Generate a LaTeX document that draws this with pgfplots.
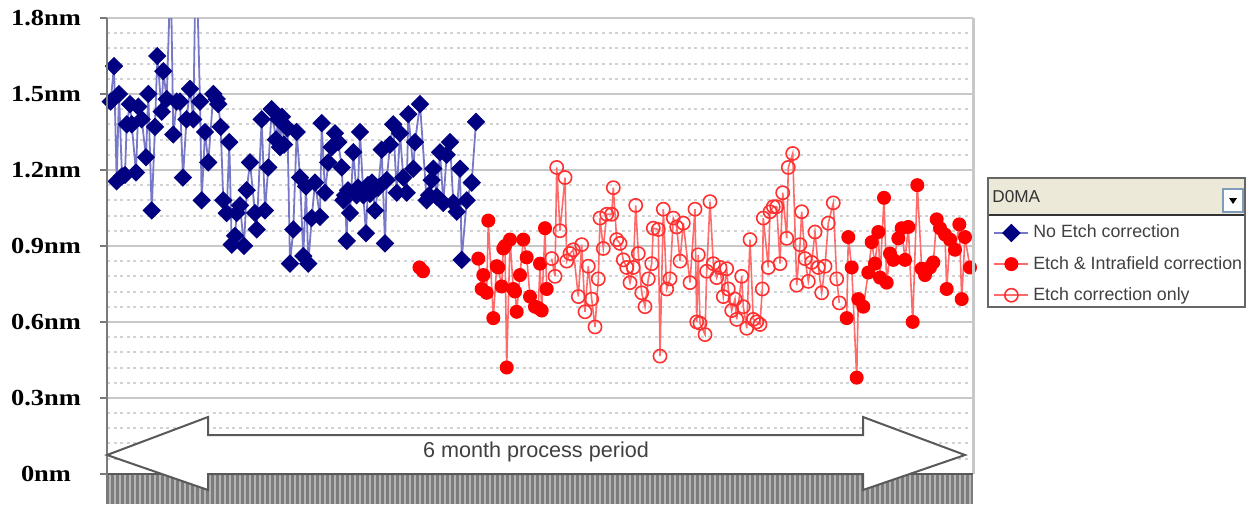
\documentclass[border=0pt]{standalone}
\usepackage{fontspec}
\setmainfont{Liberation Serif}
\newfontfamily\labfont[FakeStretch=1.15]{Liberation Serif}
\newfontfamily\sansf{Liberation Sans}
\usepackage{pgfplots}
\pgfplotsset{compat=1.18}
\definecolor{navy}{HTML}{000080}
\definecolor{blueline}{HTML}{7878C8}
\definecolor{redline}{HTML}{FF6A6A}
\definecolor{redmark}{HTML}{FF3030}
\definecolor{gridgray}{HTML}{C8C8C8}
\definecolor{dotgray}{HTML}{D2D2D2}
\definecolor{axisgray}{HTML}{7A7A7A}
\definecolor{hatchdark}{HTML}{7C7C7C}
\definecolor{hatchlight}{HTML}{B4B4B4}
\definecolor{textgray}{HTML}{404040}
\definecolor{beige}{HTML}{ECE9D8}
\definecolor{btnblue}{HTML}{7F9DB9}

\pgfplotstableread{
x y
106.7 1.50
110.7 1.47
114 1.61
116.7 1.155
119 1.50
122 1.175
125 1.18
126.7 1.38
130 1.46
131.7 1.38
136 1.19
138.3 1.45
141.7 1.40
146 1.25
148.3 1.50
151.7 1.04
155 1.37
157.3 1.65
161.7 1.43
163.3 1.59
166.7 1.48
170.7 2.0
173.3 1.34
176.7 1.47
180 1.47
183 1.17
186.5 1.40
190 1.52
193.3 1.40
196 2.1
200 1.47
201.7 1.08
205 1.35
208.3 1.23
213.3 1.50
216.7 1.48
218.3 1.46
220.7 1.37
223.3 1.08
226.7 1.03
229.3 1.31
231.7 0.905
235 0.94
236.7 1.03
240 1.06
244 0.90
246.7 1.12
250 1.23
255 1.03
256.7 0.965
261.7 1.40
265 1.04
268.3 1.21
271.7 1.44
276 1.32
278.3 1.40
280 1.29
282 1.41
284 1.30
287.5 1.365
290 0.83
293.3 0.965
296.7 1.35
300 1.17
303.3 0.86
306 1.135
308.3 0.83
311.7 1.01
315 1.15
320 1.015
321.7 1.385
325 1.11
328.3 1.23
331.7 1.29
335 1.345
338.3 1.31
341.7 1.21
343.3 1.08
345 1.10
346.7 0.92
348 1.12
350 1.03
353.3 1.27
356.7 1.10
358 1.13
360 1.35
363.3 1.10
366 0.95
368 1.14
370 1.105
372 1.15
375 1.04
378.3 1.13
381.7 1.28
385 0.91
386.7 1.16
390 1.30
393.3 1.38
396.7 1.11
400 1.345
403.3 1.17
406.7 1.11
408.3 1.42
413.3 1.205
415 1.31
420 1.46
426.7 1.08
429 1.10
431.7 1.16
433.3 1.205
436.7 1.095
440 1.27
443.3 1.07
446.7 1.26
450 1.31
453.3 1.07
456.7 1.035
460 1.205
461.7 0.845
466.7 1.08
471.7 1.15
476 1.39
}\noetch

\pgfplotstableread{
x y
419.5 0.815
423 0.80
450 nan
478.3 0.85
481.7 0.73
483.3 0.785
486.7 0.715
488.3 1.00
493.3 0.615
496.7 0.82
498.3 0.815
501.7 0.74
503.3 0.89
505 0.90
506.7 0.42
510 0.925
513.3 0.73
515 0.72
516.7 0.64
520 0.785
523.3 0.925
526.7 0.855
530 0.70
535 0.66
538.3 0.655
540 0.83
541.7 0.645
545 0.97
546.7 0.73
700 nan
846.7 0.615
848.3 0.935
851.7 0.815
856.7 0.38
858.3 0.69
863.3 0.66
868.3 0.795
871.7 0.915
875 0.83
878.3 0.955
880 0.775
884 1.09
886.7 0.755
890 0.87
893.3 0.845
898.3 0.93
901.7 0.97
905 0.845
908.3 0.975
912.7 0.60
917.3 1.14
921.7 0.81
925 0.785
930 0.815
933.3 0.835
936.7 1.005
940 0.97
945 0.945
946.7 0.73
950 0.925
955 0.885
959.3 0.985
961.7 0.69
965 0.935
970 0.815
}\intrafield

\pgfplotstableread{
x y
551.7 0.85
555 0.78
556.7 1.21
560 0.96
565 1.17
566.7 0.84
570 0.87
573.3 0.885
578.3 0.70
581.7 0.905
585 0.64
588.3 0.82
591.7 0.69
595 0.58
598.3 0.77
600 1.01
603.3 0.89
606.7 1.025
611.7 1.025
613.3 1.13
616.7 0.925
620 0.91
623.3 0.845
626.7 0.815
630 0.755
633.3 0.815
635.7 1.06
638.3 0.87
641.7 0.715
645 0.66
648.3 0.77
651.7 0.83
653.3 0.97
658.3 0.965
660 0.465
663.3 1.045
666.7 0.73
670 0.77
673.3 1.01
676.7 0.975
680 0.84
683.3 0.99
690 0.755
695 1.045
696.7 0.60
698.3 0.865
700 0.595
705 0.55
706.7 0.80
710 1.075
713.3 0.83
716.7 0.775
720 0.815
723.3 0.70
726.7 0.81
728.3 0.73
731.7 0.645
735 0.69
736.7 0.61
741.7 0.78
743.3 0.66
746.7 0.575
750 0.925
753.3 0.61
756.7 0.60
760 0.59
762.3 0.73
763.3 1.01
768.3 0.815
770 1.035
773.3 1.055
776.7 1.055
780 0.83
782.7 1.11
786.7 0.93
788.3 1.21
792.7 1.265
796.7 0.745
800 0.905
801.7 1.035
805 0.85
808.3 0.76
811.7 0.835
815 0.955
818.3 0.815
821.7 0.715
825 0.82
828.3 0.99
833.3 1.07
836.7 0.77
839.3 0.675
}\etchonly

\begin{document}
\begin{tikzpicture}
\useasboundingbox (0,0) rectangle (623.5pt,-252pt);
\begin{axis}[
  at={(53.5pt,-252pt)}, anchor=south west,
  scale only axis, width=433pt, height=243pt,
  xmin=107, xmax=973, ymin=-0.119, ymax=1.8,
  xtick=\empty,
  ytick={0,0.3,0.6,0.9,1.2,1.5,1.8},
  yticklabels={0nm,0.3nm,0.6nm,0.9nm,1.2nm,1.5nm,1.8nm},
  yticklabel style={font=\labfont\bfseries\fontsize{11.5}{13}\selectfont, anchor=center, xshift=-27pt, text=black},
  minor y tick num=4,
  ymajorgrids, yminorgrids,
  major grid style={line width=1.2pt, color=gridgray},
  minor grid style={line width=1pt, color=dotgray, dash pattern=on 1.5pt off 1.8pt},
  ytick pos=left, tick align=outside,
  major tick length=3.5pt, minor tick length=0pt,
  tick style={color=axisgray, line width=1pt},
  axis line style={draw=none},
  unbounded coords=jump,
  legend cell align=left,
  legend style={at={(1.0231,0.583)}, anchor=north west, draw=none, fill=none,
    font=\sansf\fontsize{8.9}{10}\selectfont, text=textgray,
    inner xsep=0pt, inner ysep=0pt, row sep=3.6pt},
]
\addplot[color=blueline, line width=0.9pt, mark=square*, mark size=2.8pt,
  mark options={rotate=45, draw=navy, fill=navy, solid}] table[x=x,y=y] {\noetch};
\addplot[color=redline, line width=0.8pt, mark=*, mark size=3.1pt,
  mark options={draw=red, fill=red, solid}] table[x=x,y=y] {\intrafield};
\addplot[color=redline, line width=0.8pt, mark=o, mark size=3.3pt,
  mark options={draw=redmark, line width=0.8pt, solid}] table[x=x,y=y] {\etchonly};
\legend{No Etch correction, Etch \& Intrafield correction, Etch correction only}
\end{axis}
\begin{scope}[x=0.5pt,y=-0.5pt]
  % borders
  \draw[line width=1.5pt, gridgray] (973,18) -- (973,474);
  % hatched band below zero
  \fill[hatchdark] (107,474) rectangle (973,504);
  \foreach \i in {0,...,172} {\fill[hatchlight] ({109+5*\i},475) rectangle ++(2,29);}
  \draw[line width=1pt, black!65] (107,474) -- (973,474);
  \draw[line width=0.8pt, axisgray] (107,18) -- (107,504);
  % double arrow
  \path[draw=black!65, fill=white, line width=1pt, line join=miter]
    (107,455) -- (208,417) -- (208,435) -- (863,435) -- (863,417) -- (965,455)
    -- (863,490) -- (863,474) -- (208,474) -- (208,490) -- cycle;
  \node[font=\sansf\fontsize{10.8}{12}\selectfont, text=textgray] at (536,452) {6 month process period};
  % legend box and header
  \fill[beige] (989,179) rectangle (1244,214);
  \draw[line width=1pt, black!80] (989,214.5) -- (1244,214.5);
  \draw[line width=0.9pt, black!60] (988,178) rectangle (1245,307);
  \node[font=\sansf\fontsize{8.6}{10}\selectfont, text=black!80, anchor=west, inner sep=0pt] at (992,197) {D0MA};
  \draw[line width=0.8pt, btnblue, fill=white] (1223,189) rectangle (1243,212);
  \fill[black] (1229,198) -- (1237,198) -- (1233,204) -- cycle;
\end{scope}
\end{tikzpicture}
\end{document}
